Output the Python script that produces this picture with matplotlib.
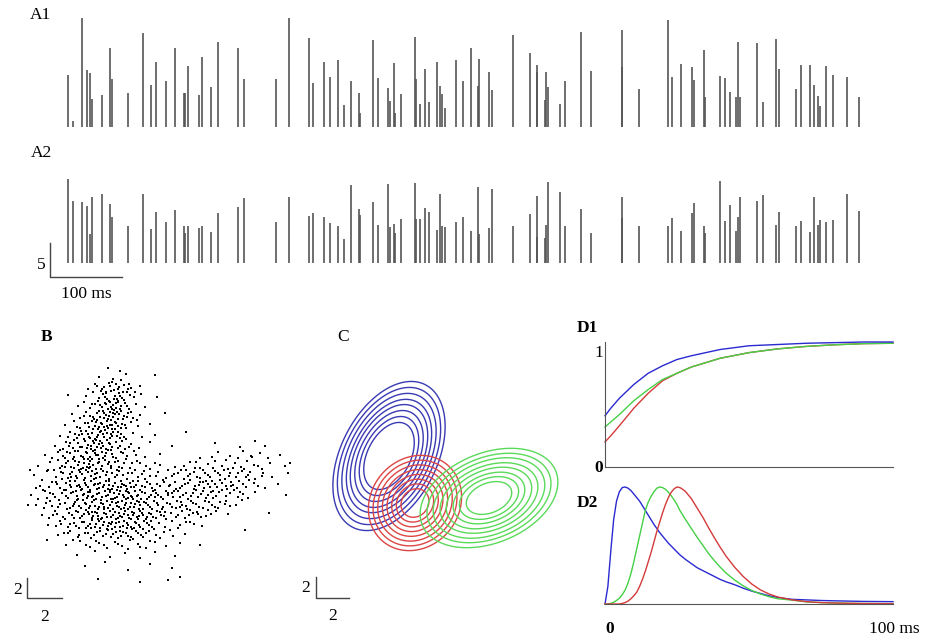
import numpy as np
import matplotlib
matplotlib.use('Agg')
import matplotlib.pyplot as plt

plt.rcParams['font.family'] = ['Liberation Serif', 'DejaVu Serif']

# --- A: spike trains (times in ms, amplitudes in scale units) ---
spike_t = [25, 32, 44, 52, 55, 59, 72, 83, 86, 109,
           129, 140, 147, 161, 173, 186, 188, 191, 207, 211,
           223, 234, 261, 270, 314, 332, 360, 365, 381, 389,
           400, 409, 418, 429, 430, 449, 455, 470, 472, 478,
           479, 488, 507, 508, 514, 521, 526, 537, 542, 544,
           549, 564, 574, 585, 594, 596, 610, 614, 643, 667,
           676, 677, 688, 689, 691, 709, 715, 737, 751, 794,
           795, 818, 858, 864, 876, 892, 894, 909, 910, 930,
           937, 945, 953, 956, 958, 982, 990, 1009, 1013, 1036,
           1043, 1055, 1061, 1066, 1070, 1078, 1087, 1107, 1123]
amp_a1 = [7.6, 0.9, 16.0, 8.4, 7.9, 4.1, 4.7, 11.6, 7.1, 5.0,
          13.8, 6.2, 9.6, 6.8, 11.6, 5.0, 5.0, 9.0, 4.7, 10.3,
          5.9, 12.5, 11.6, 7.1, 7.1, 16.0, 13.1, 6.5, 9.6, 7.4,
          9.9, 3.2, 6.8, 5.0, 2.1, 12.8, 7.2, 5.7, 3.8, 9.4,
          2.1, 4.9, 13.2, 7.1, 3.4, 8.5, 3.7, 9.6, 6.0, 4.9,
          2.8, 9.9, 6.8, 11.6, 6.0, 10.0, 8.1, 5.4, 13.5, 10.9,
          9.1, 8.1, 4.0, 8.1, 5.9, 3.4, 6.8, 14.0, 8.2, 14.3,
          8.8, 5.6, 15.7, 7.4, 9.3, 8.8, 6.9, 11.3, 4.4, 7.5,
          7.2, 5.1, 4.4, 12.5, 4.4, 12.4, 3.7, 12.9, 8.5, 5.6,
          9.1, 9.1, 6.2, 4.6, 3.1, 9.0, 7.6, 7.4, 4.4]
amp_a2 = [12.4, 9.1, 9.0, 8.4, 4.3, 9.7, 10.1, 8.7, 6.8, 5.4,
          10.1, 5.0, 7.5, 6.0, 7.8, 5.4, 4.4, 5.4, 5.1, 5.4,
          4.6, 7.4, 8.2, 9.6, 6.0, 9.7, 6.9, 7.4, 6.8, 5.9,
          5.4, 3.5, 11.5, 7.9, 7.1, 9.0, 5.6, 11.6, 5.3, 5.7,
          4.4, 6.5, 11.8, 6.5, 6.5, 8.1, 7.5, 4.9, 10.1, 5.4,
          5.3, 6.0, 6.8, 4.7, 11.2, 4.3, 5.1, 10.9, 5.4, 7.2,
          9.9, 3.8, 3.7, 5.6, 11.9, 10.4, 5.4, 7.9, 4.4, 9.7,
          6.6, 5.4, 5.4, 6.6, 4.7, 7.4, 8.8, 5.4, 4.4, 12.1,
          6.2, 8.5, 4.7, 6.8, 9.7, 9.1, 10.0, 5.6, 7.5, 5.4,
          6.2, 4.6, 9.7, 5.6, 6.3, 6.0, 6.3, 10.1, 7.6]

# --- B: scatter of spike features (x, y), read band by band ---
b_points = """
108,368 120,371 99,377 126,374 113,379 155,375 68,395
95,384 104,387 112,382 118,389 124,385 131,388 109,383 140,386 88,389
86,396 93,392 99,398 103,394 107,399 111,391 115,396 119,393 122,398 127,392 134,397 141,394 101,391 117,399 157,397
78,406 84,402 90,408 95,404 98,401 102,407 105,403 108,409 110,402 113,405 116,408 118,401 121,406 125,403 129,409 136,404 145,407 100,405 112,409 165,413
72,414 80,418 86,412 90,416 94,419 97,413 100,417 103,411 106,415 108,419 110,412 113,417 115,414 118,419 121,411 124,416 128,413 133,418 140,415 104,418 117,412
65,425 74,421 80,428 85,423 89,427 92,421 95,426 98,429 101,423 104,427 107,421 110,425 112,429 115,422 118,426 122,424 126,428 131,422 138,426 150,424 96,422 108,428
60,436 70,432 77,438 82,434 86,431 89,437 92,433 95,439 98,435 101,431 104,437 107,433 110,438 113,432 117,436 121,434 126,439 133,433 142,437 155,435 186,432 90,438 103,434
55,446 66,442 73,448 78,443 82,447 85,441 88,445 91,449 94,443 97,447 100,441 103,446 106,449 109,443 112,447 116,442 120,446 125,449 131,444 139,448 150,442 172,446 215,443 240,447 255,441 265,446 87,448 99,444
45,455 58,452 65,458 70,453 74,457 78,451 81,456 84,459 87,453 90,457 93,451 96,455 99,459 102,452 105,456 108,450 112,454 116,458 121,452 127,456 134,451 145,457 160,454 200,458 218,452 230,456 243,451 252,457 260,453 268,458 280,455 95,453
38,466 50,462 60,468 66,463 71,467 75,461 78,465 81,469 84,463 87,467 90,461 93,465 96,469 99,462 102,466 105,460 108,464 111,468 115,462 119,467 124,463 130,468 137,461 146,466 155,463 175,467 190,462 200,468 208,464 215,461 222,466 228,469 235,463 241,467 247,461 254,465 262,469 270,463 285,466 89,468
34,475 47,471 56,477 63,473 68,478 72,472 76,476 79,470 82,474 85,478 88,472 91,476 94,479 97,473 100,477 103,471 106,475 109,479 112,473 115,477 119,471 123,475 127,479 132,473 138,477 144,471 150,476 158,472 166,478 174,474 181,470 188,476 194,472 200,478 205,473 210,477 215,471 220,475 225,479 230,473 236,477 242,471 248,475 255,479 263,473 272,477 92,471 117,475
40,486 52,482 60,488 66,483 71,487 75,481 79,485 82,489 85,483 88,487 91,481 94,485 97,489 100,483 103,487 106,481 109,485 112,489 115,483 118,487 121,481 124,485 127,489 130,483 134,487 138,481 142,486 147,482 152,488 157,484 163,480 169,486 175,482 180,488 185,484 190,480 195,486 200,482 204,488 208,484 212,481 217,487 222,483 227,489 233,485 239,481 246,487 254,483 265,488 278,484 98,484 126,486
31,495 45,491 55,497 62,493 68,498 73,492 77,496 81,490 84,494 87,498 90,492 93,496 96,499 99,493 102,497 105,491 108,495 111,499 114,493 117,497 120,491 123,495 126,499 129,493 132,497 135,491 138,495 141,499 145,493 149,497 153,491 158,495 163,499 168,493 173,497 178,491 183,495 188,499 193,493 198,497 203,491 208,495 213,498 219,492 226,496 234,490 243,494 255,492 110,492 131,496
36,505 50,501 58,507 65,503 70,508 75,502 79,506 83,500 86,504 89,508 92,502 95,506 98,509 101,503 104,507 107,501 110,505 113,509 116,503 119,507 122,501 125,505 128,509 131,503 134,507 137,501 140,505 143,509 146,503 150,507 154,501 158,505 162,509 167,503 172,507 177,501 182,505 187,509 193,503 199,507 205,501 212,505 220,502 230,506 242,500 124,508 139,502
42,515 55,511 63,517 69,513 74,518 78,512 82,516 86,510 89,514 92,518 95,512 98,516 101,519 104,513 107,517 110,511 113,515 116,519 119,513 122,517 125,511 128,515 131,519 134,513 137,517 140,511 143,515 146,519 149,513 153,517 157,511 161,515 166,519 171,513 176,517 182,511 189,515 197,512 206,516 216,511 228,514 118,518 132,512
48,525 60,521 68,527 74,523 79,528 84,522 88,526 92,520 96,524 100,528 104,522 108,526 112,529 116,523 120,527 124,521 128,525 132,529 136,523 140,527 144,521 149,525 154,529 159,523 165,527 172,521 180,525 190,522 202,526 112,522 127,528
58,535 70,531 78,537 85,533 91,538 97,532 103,536 108,530 113,534 118,538 123,532 128,536 133,539 138,533 143,537 149,531 156,535 164,532 173,536 185,534 120,531
66,545 80,541 90,547 99,543 107,548 115,542 122,546 130,540 138,544 146,548 155,542 166,546 180,543
77,555 95,551 110,557 125,553 140,558 155,552 175,556
85,566 105,562 128,570 150,564 172,568
98,579 140,582 180,577 168,580
30,470 28,505 290,463 286,495 269,513 245,530 200,545 47,540 288,473
"""
# extra points in the dense cores
b_points_core = """
102,389 106,393 110,386 114,390 119,387 123,392 128,389 116,384 105,397 109,401 114,399 120,396 124,400 130,395
106,404 111,407 116,403 120,409 127,406 99,411 104,413 109,416 114,410 119,414 123,419 127,417 97,420 102,424
107,426 111,420 116,423 121,428 125,425 93,429 100,432 105,430 111,434 115,429 120,438 96,440
68,437 74,440 79,435 84,439 88,434 93,441 97,437 102,443 107,440 112,436 63,449 69,446 75,451 80,447 86,452
91,446 95,450 101,448 106,453 111,450 118,448 123,453 58,460 63,456 68,461 73,459 79,462 83,457 89,464 92,459
98,463 103,458 109,462 113,457 118,461 126,459 132,463 54,470 61,472 65,467 70,474 74,468 80,472 86,470 90,467
95,474 101,469 107,472 111,466 117,470 122,468 128,473 135,470 142,474 62,479 70,481 77,478 84,480
43,490 49,487 57,484 64,490 70,485 76,491 80,487 86,485 90,490 95,484 99,488 104,485 108,489 113,486 117,490
122,484 126,491 131,487 136,485 140,490 145,487 150,484 155,490 160,486 47,498 53,494 59,500 66,496 71,493
78,499 83,495 88,492 92,497 97,494 101,500 106,496 110,490 115,498 119,494 124,497 128,492 133,499 137,496
142,492 147,499 151,495 156,493 161,497 166,491 52,506 60,504 67,509 73,506 77,500 81,508 85,503 90,506 94,500
99,507 103,504 108,508 112,502 117,506 121,509 126,503 130,507 135,504 139,509 144,502 148,505 152,509 157,503
163,507 57,514 65,519 72,515 76,511 80,518 84,514 88,512 93,516 97,513 102,518 106,514 111,517 115,512 120,516
124,514 129,518 133,515 138,519 142,513 147,517 151,514 156,518 160,512 164,516 70,524 76,526 82,522 86,528
90,524 95,527 99,521 103,525 107,529 111,524 115,527 119,522 123,526 127,523 131,527 135,522 139,525 143,529
147,523 152,527 88,533 94,535 100,531 106,534 111,537 116,532 121,536 126,533 131,537 136,531 141,535 146,533
172,476 178,473 184,479 190,474 197,477 203,470 208,475 213,468 218,473 224,470 229,476 233,468 238,473 244,469
250,472 170,485 176,489 182,486 188,483 194,489 199,485 206,481 210,487 215,484 220,480 226,486 231,482 237,488
243,484 249,480 168,495 174,491 180,497 186,493 191,496 196,490 201,494 206,498 211,492 216,496 222,490 230,493
238,497 170,504 176,508 181,502 186,506 190,510 196,504 203,508 209,502 215,507 225,504 178,515 185,518 193,513
201,517 211,514
"""
# further points spread over the whole cloud
b_points_spread = """
97,386 121,380 129,384 135,392 92,404 131,412 137,420 84,416 77,427 70,443 60,450 52,458 48,470 42,480 36,488
38,499 44,508 49,518 56,526 64,533 73,540 86,545 96,541 104,545 118,544 128,549 140,547 150,541 160,538 170,530
178,528 186,522 194,524 198,514 208,510 218,508 226,501 236,505 248,498 258,486 262,476 258,466 251,456 238,458
226,460 212,457 196,462 184,466 168,470 160,465 150,469 140,463 136,455 129,447 122,441 118,432 112,425 99,427
93,417 88,423 81,431 75,434 67,452 62,466 56,482 50,493 46,503 53,515 61,524 68,533 79,535 91,528 98,519 104,509
113,499 121,487 133,481 145,479 156,476 164,482 172,493 180,507 165,512 151,521 139,516 128,498 118,502 109,481
96,478 88,496 74,504 66,490 71,477 83,468 98,455 110,444 124,437 113,413 106,392 118,402 88,459 77,486 92,512
109,523 134,528 155,497 191,501 213,491 231,486 246,477 203,482 186,470 240,492 195,468
"""
b_xy = np.array([p.split(',') for p in (b_points + b_points_core + b_points_spread).split()],
                dtype=float)

# --- C: mixture components (centre, semi-axes, tilt in degrees, ring levels) ---
c_centres = [(389, 456), (415, 503), (489, 498)]
c_axes = [(80, 48), (50, 44), (72, 45)]
c_tilts = [63, 50, 22]
c_levels = [[0.45, 0.53, 0.61, 0.69, 0.76, 0.84, 0.92, 1.0],
            [0.30, 0.40, 0.50, 0.60, 0.70, 0.80, 0.90, 1.0],
            [0.33, 0.43, 0.52, 0.62, 0.71, 0.81, 0.90, 1.0]]
c_colors = ['#3a3ab4', '#dd4545', '#5ada5a']

# --- D1: cumulative curves ---
d1_t = [0, 2, 5, 10, 15, 20, 25, 30, 40, 50, 60, 70, 80, 90, 100]
d1_blue = [0.41, 0.47, 0.55, 0.66, 0.75, 0.81, 0.86, 0.89, 0.94, 0.97, 0.98, 0.99, 0.995, 1.0, 1.0]
d1_green = [0.32, 0.36, 0.42, 0.53, 0.62, 0.70, 0.75, 0.80, 0.87, 0.915, 0.945, 0.965, 0.978, 0.987, 0.99]
d1_red = [0.20, 0.25, 0.33, 0.47, 0.59, 0.69, 0.75, 0.80, 0.87, 0.915, 0.945, 0.965, 0.978, 0.987, 0.99]

# --- D2: densities ---
d2_t = [0, 1, 2, 3, 4, 5, 6, 7, 8, 9, 10, 11, 12, 13, 14, 15, 16, 17, 18, 19,
        20, 21, 22, 23, 24, 25, 26, 27, 28, 30, 32, 34, 36, 38, 40, 42, 45, 48,
        51, 54, 57, 60, 65, 70, 75, 80, 90, 100]
d2_blue = [0.0, 0.15, 0.45, 0.72, 0.88, 0.96, 0.995, 1.0, 0.99, 0.97, 0.94, 0.91, 0.88, 0.84,
           0.80, 0.76, 0.72, 0.68, 0.645, 0.61, 0.58, 0.55, 0.52, 0.495, 0.47, 0.445, 0.42,
           0.40, 0.38, 0.345, 0.31, 0.285, 0.26, 0.235, 0.21, 0.19, 0.165, 0.135, 0.11, 0.09,
           0.07, 0.055, 0.04, 0.035, 0.03, 0.027, 0.022, 0.02]
d2_green = [0.0, 0.0, 0.005, 0.015, 0.03, 0.05, 0.08, 0.12, 0.18, 0.26, 0.36, 0.47, 0.58, 0.69,
            0.80, 0.87, 0.92, 0.96, 0.99, 1.0, 0.995, 0.98, 0.955, 0.925, 0.89, 0.85, 0.80,
            0.76, 0.72, 0.645, 0.57, 0.50, 0.43, 0.37, 0.315, 0.265, 0.205, 0.155, 0.115,
            0.085, 0.062, 0.045, 0.033, 0.018, 0.012, 0.008, 0.004, 0.003]
d2_red = [0.0, 0.0, 0.0, 0.0, 0.0, 0.0, 0.005, 0.012, 0.025, 0.045, 0.07, 0.10, 0.15, 0.21,
          0.28, 0.36, 0.44, 0.53, 0.62, 0.70, 0.78, 0.85, 0.91, 0.955, 0.985, 1.0, 0.995,
          0.98, 0.96, 0.90, 0.82, 0.74, 0.65, 0.565, 0.485, 0.41, 0.315, 0.235, 0.17, 0.12,
          0.085, 0.06, 0.035, 0.02, 0.012, 0.008, 0.004, 0.002]

W, H = 925, 644
fig = plt.figure(figsize=(9.25, 6.44), dpi=100)


def box(x0, y0, x1, y1):
    ax = fig.add_axes([x0 / W, 1 - y1 / H, (x1 - x0) / W, (y1 - y0) / H])
    return ax


def label(x, y, s, **kw):
    fig.text(x / W, 1 - y / H, s, ha='center', va='center', fontsize=12.5, **kw)


MS_PX = 100 / 72
UNIT_PX = 5 / 34
spike_col = '#555555'
axis_col = '#444444'

# A1
ax = box(50, 15, 870, 127)
ax.vlines(spike_t, 0, amp_a1, color=spike_col, lw=1.2)
ax.set_xlim(0, 820 * MS_PX)
ax.set_ylim(0, 112 * UNIT_PX)
ax.axis('off')
label(40, 15, 'A1')

# A2 with scale bar
ax = box(50, 150, 870, 263)
ax.vlines(spike_t, 0, amp_a2, color=spike_col, lw=1.2)
ax.set_xlim(0, 820 * MS_PX)
ax.set_ylim(0, 113 * UNIT_PX)
yb = -14 * UNIT_PX
ax.plot([0, 0, 100], [yb + 5, yb, yb], color=axis_col, lw=1, clip_on=False)
ax.axis('off')
label(41, 153, 'A2')
label(41, 265, '5')
label(86, 294, '100 ms')

# B scatter
ax = box(10, 355, 300, 630)
ax.plot(b_xy[:, 0], b_xy[:, 1], 's', color='black', ms=1.8, mew=0)
ax.plot([27, 27, 62], [578, 598, 598], color=axis_col, lw=1)
ax.set_xlim(10, 300)
ax.set_ylim(630, 355)
ax.axis('off')
label(47, 337, 'B', fontweight='bold')
label(18, 590, '2')
label(45, 617, '2')

# C contours
ax = box(300, 355, 570, 630)
X, Y = np.meshgrid(np.arange(300, 570, 0.5), np.arange(355, 630, 0.5))
for (cx, cy), (a, b), th, lv, col in zip(c_centres, c_axes, c_tilts, c_levels, c_colors):
    r = np.deg2rad(th)
    dx = X - cx
    dy = -(Y - cy)
    u = dx * np.cos(r) + dy * np.sin(r)
    v = -dx * np.sin(r) + dy * np.cos(r)
    d = np.sqrt((u / a) ** 2 + (v / b) ** 2)
    ax.contour(X, Y, d, levels=lv, colors=col, linewidths=1.0)
ax.plot([316, 316, 349], [577, 598, 598], color=axis_col, lw=1)
ax.set_xlim(300, 570)
ax.set_ylim(630, 355)
ax.axis('off')
label(343, 337, 'C')
label(306, 588, '2')
label(333, 616, '2')

# D1
ax = box(605, 342, 893, 467)
ax.plot(d1_t, d1_red, color='#d43a3a', lw=1, clip_on=False)
ax.plot(d1_t, d1_green, color='#45d045', lw=1, clip_on=False)
ax.plot(d1_t, d1_blue, color='#2a2ad0', lw=1, clip_on=False)
ax.set_xlim(0, 100)
ax.set_ylim(0, 1)
for s in ['top', 'right']:
    ax.spines[s].set_visible(False)
for s in ['left', 'bottom']:
    ax.spines[s].set_color('#555555')
ax.set_xticks([])
ax.set_yticks([])
label(587, 328, 'D1', fontweight='bold')
label(599, 353, '1')
label(599, 468, '0', fontweight='bold')

# D2
ax = box(605, 487, 893, 604)
ax.plot(d2_t, d2_blue, color='#2a2ad0', lw=1, clip_on=False)
ax.plot(d2_t, d2_green, color='#45d045', lw=1, clip_on=False)
ax.plot(d2_t, d2_red, color='#d43a3a', lw=1, clip_on=False)
ax.set_xlim(0, 100)
ax.set_ylim(0, 1)
for s in ['top', 'right', 'left']:
    ax.spines[s].set_visible(False)
ax.spines['bottom'].set_color('#555555')
ax.set_xticks([])
ax.set_yticks([])
label(587, 503, 'D2', fontweight='bold')
label(610, 629, '0', fontweight='bold')
label(894, 629, '100 ms')

fig.savefig('out.png', dpi=100)
